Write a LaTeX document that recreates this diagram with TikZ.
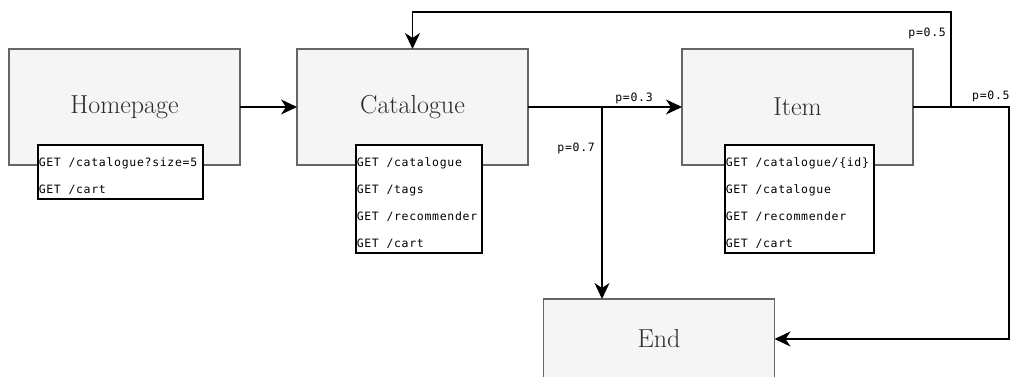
\documentclass[tikz,border=0pt]{standalone}
\usepackage{fontspec}
\newfontfamily\apifont{DejaVu Sans Mono}[LetterSpace=6]
\usetikzlibrary{positioning, calc, arrows.meta}
\definecolor{stagefill}{HTML}{F5F5F5}
\definecolor{stageline}{HTML}{666666}
\definecolor{stagetext}{HTML}{2B2B2B}
\newcommand{\apirow}[1]{\rule[-5pt]{0pt}{27pt}#1}

\begin{document}
\begin{tikzpicture}[
        x=1pt, y=1pt,
        stage/.style={rectangle, draw=stageline, fill=stagefill, line width=1.5pt, outer sep=0pt, minimum width=231pt, minimum height=116pt, text=stagetext, font=\fontsize{26}{31}\selectfont},
        api/.style={rectangle, draw, fill=white, line width=1.5pt, inner xsep=1pt, inner ysep=0pt, anchor=north west, font=\apifont\fontsize{11.5}{14}\selectfont},
        prob/.style={inner sep=0pt, font=\apifont\fontsize{11.5}{14}\selectfont},
        arrow/.style={-{Stealth[length=16pt, width=15pt, inset=5pt]}, line width=1.6pt},
        link/.style={line width=1.6pt}
    ]
    \useasboundingbox (0,0) rectangle (1011,376);
    \clip (0,0) rectangle (1011,376);

    % Nodes
    \node (home) [stage] at (124.5,269) {Homepage};
    \node (cat) [stage, right=57pt of home] {Catalogue};
    \node (item) [stage, right=154pt of cat] {Item};
    \node (end) [stage, minimum height=80pt] at (659,37) {End};

    % Requests per page
    \node (home_api) [api] at ($(home.south west)+(28,21)$) {\begin{tabular}{@{}p{163pt}@{}}
        \apirow{GET /catalogue?size=5}\\
        \apirow{GET /cart}
    \end{tabular}};
    \node (cat_api) [api] at ($(cat.south west)+(58,21)$) {\begin{tabular}{@{}p{124pt}@{}}
        \apirow{GET /catalogue}\\
        \apirow{GET /tags}\\
        \apirow{GET /recommender}\\
        \apirow{GET /cart}
    \end{tabular}};
    \node (item_api) [api] at ($(item.south west)+(42,21)$) {\begin{tabular}{@{}p{147pt}@{}}
        \apirow{GET /catalogue/\{id\}}\\
        \apirow{GET /catalogue}\\
        \apirow{GET /recommender}\\
        \apirow{GET /cart}
    \end{tabular}};

    % Branch points
    \coordinate (split1) at ($(cat.east)+(74,0)$);
    \coordinate (split2) at ($(item.east)+(38,0)$);
    \coordinate (exit) at ($(item.east)+(96,0)$);

    % Arrows
    \draw [arrow] (home.east) -- (cat.west);
    \draw [link] (cat.east) -- (split1);
    \draw [arrow] (split1) -- (item.west);
    \draw [arrow] (split1) -- (split1 |- end.north);
    \draw [arrow] (item.east) -- (split2) -- ++(0,95) -| (cat.north);
    \draw [arrow] (split2) -- (exit) |- (end.east);

    % Probabilities
    \node (p_item) [prob, anchor=base] at ($(split1)+(32,6)$) {p=0.3};
    \node (p_end) [prob, anchor=base east] at ($(split1)+(-7,-44)$) {p=0.7};
    \node (p_back) [prob, anchor=base east] at ($(split2)+(-5,71)$) {p=0.5};
    \node (p_exit) [prob, anchor=base west] at ($(split2)+(21,8)$) {p=0.5};

\end{tikzpicture}
\end{document}
